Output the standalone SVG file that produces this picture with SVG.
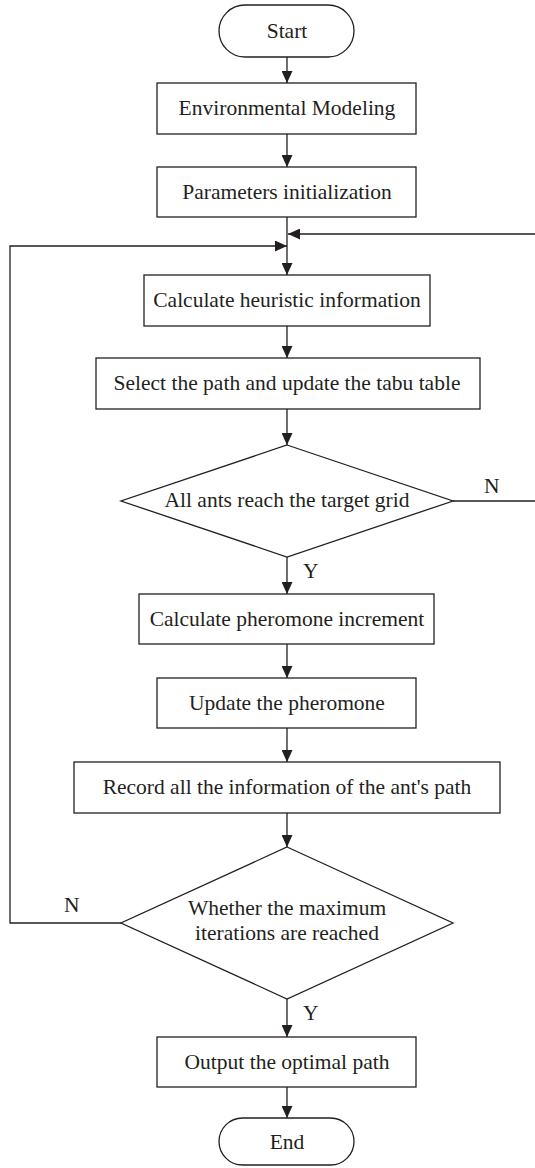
<svg xmlns="http://www.w3.org/2000/svg" width="535" height="1168" viewBox="0 0 535 1168">
<defs>
<marker id="arr" viewBox="0 0 12 11" refX="12" refY="5.5" markerWidth="12" markerHeight="11" markerUnits="userSpaceOnUse" orient="auto">
<path d="M0,0 L12,5.5 L0,11 Z" fill="#231f20"/>
</marker>
<style>
.box{fill:#fff;stroke:#231f20;stroke-width:1.3}
.t{font-family:"Liberation Serif","Times New Roman",serif;font-size:21.5px;fill:#231f20;text-anchor:middle}
.lbl{font-family:"Liberation Serif","Times New Roman",serif;font-size:21.5px;fill:#231f20}
.c{fill:none;stroke:#231f20;stroke-width:1.3}
</style>
</defs>
<rect width="535" height="1168" fill="#fff"/>
<g id="connectors">
<line class="c" x1="287" y1="57" x2="287" y2="83" marker-end="url(#arr)"/>
<line class="c" x1="287" y1="134" x2="287" y2="167" marker-end="url(#arr)"/>
<line class="c" x1="287" y1="217" x2="287" y2="275" marker-end="url(#arr)"/>
<line class="c" x1="287" y1="326" x2="287" y2="358" marker-end="url(#arr)"/>
<line class="c" x1="287" y1="409" x2="287" y2="445" marker-end="url(#arr)"/>
<line class="c" x1="287" y1="557" x2="287" y2="594" marker-end="url(#arr)"/>
<line class="c" x1="287" y1="644" x2="287" y2="678" marker-end="url(#arr)"/>
<line class="c" x1="287" y1="728" x2="287" y2="762" marker-end="url(#arr)"/>
<line class="c" x1="287" y1="813" x2="287" y2="847" marker-end="url(#arr)"/>
<line class="c" x1="287" y1="999" x2="287" y2="1037" marker-end="url(#arr)"/>
<line class="c" x1="287" y1="1087" x2="287" y2="1118" marker-end="url(#arr)"/>
<path class="c" d="M453,501 H540 V234 H288" marker-end="url(#arr)"/>
<path class="c" d="M121,923 H10 V246 H287" marker-end="url(#arr)"/>
<text class="lbl" x="484" y="493">N</text>
<text class="lbl" x="303" y="578">Y</text>
<text class="lbl" x="64" y="912">N</text>
<text class="lbl" x="303" y="1020">Y</text>
</g>
<g id="start">
<rect class="box" x="219" y="5" width="135" height="52" rx="26" ry="26"/>
<text class="t" x="287" y="38">Start</text>
</g>
<g id="env">
<rect class="box" x="157" y="83" width="259" height="51"/>
<text class="t" x="287" y="115">Environmental Modeling</text>
</g>
<g id="params">
<rect class="box" x="157" y="167" width="259" height="50"/>
<text class="t" x="287" y="199">Parameters initialization</text>
</g>
<g id="heuristic">
<rect class="box" x="144" y="275" width="286" height="51"/>
<text class="t" x="287" y="307">Calculate heuristic information</text>
</g>
<g id="select">
<rect class="box" x="96" y="358" width="384" height="51"/>
<text class="t" x="287" y="390">Select the path and update the tabu table</text>
</g>
<g id="decision1">
<polygon class="box" points="287,445 453,501 287,557 121,501"/>
<text class="t" x="287" y="507">All ants reach the target grid</text>
</g>
<g id="increment">
<rect class="box" x="139" y="594" width="295" height="50"/>
<text class="t" x="287" y="626">Calculate pheromone increment</text>
</g>
<g id="update">
<rect class="box" x="157" y="678" width="259" height="50"/>
<text class="t" x="287" y="710">Update the pheromone</text>
</g>
<g id="record">
<rect class="box" x="74" y="762" width="426" height="51"/>
<text class="t" x="287" y="794">Record all the information of the ant's path</text>
</g>
<g id="decision2">
<polygon class="box" points="287,847 453,923 287,999 121,923"/>
<text class="t" x="287" y="915">Whether the maximum</text>
<text class="t" x="287" y="940">iterations are reached</text>
</g>
<g id="output">
<rect class="box" x="157" y="1037" width="259" height="50"/>
<text class="t" x="287" y="1069">Output the optimal path</text>
</g>
<g id="end">
<rect class="box" x="219" y="1118" width="135" height="47" rx="23.5" ry="23.5"/>
<text class="t" x="287" y="1149">End</text>
</g>
</svg>
